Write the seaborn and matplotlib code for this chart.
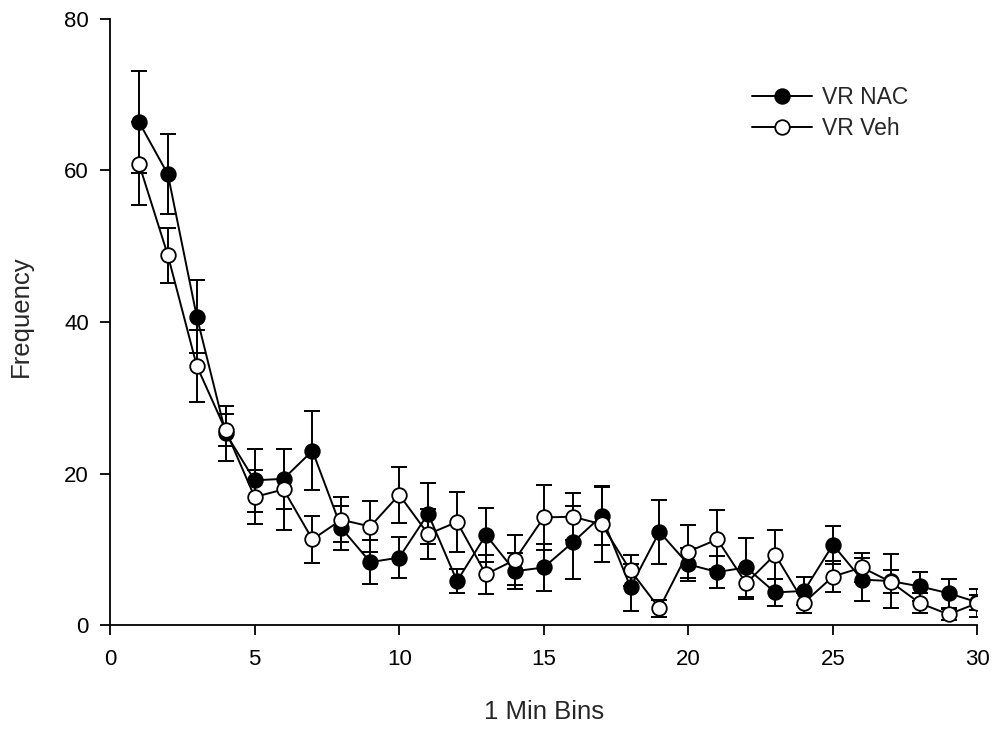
import matplotlib
matplotlib.use("Agg")
import matplotlib.pyplot as plt
import numpy as np
import pandas as pd
import seaborn as sns

# Frequency per 1-minute bin, mean ± SEM for each group
bins = list(range(1, 31))
nac_mean = [66.4, 59.5, 40.7, 25.3, 19.1, 19.3, 23.0, 12.8, 8.3, 8.9,
            14.7, 5.8, 11.9, 7.1, 7.6, 10.9, 14.4, 5.0, 12.3, 8.0,
            7.0, 7.6, 4.3, 4.5, 10.6, 6.0, 5.8, 5.1, 4.2, 3.0]
nac_sem = [6.7, 5.3, 4.8, 3.6, 4.2, 4.0, 5.2, 2.9, 2.9, 2.7,
           4.0, 1.6, 3.6, 2.4, 3.1, 4.8, 3.8, 3.1, 4.2, 2.2,
           2.1, 3.9, 1.8, 1.9, 2.5, 2.8, 3.6, 1.9, 1.9, 1.0]
veh_mean = [60.9, 48.8, 34.2, 25.7, 16.9, 17.9, 11.3, 13.9, 13.0, 17.2,
            12.0, 13.6, 6.7, 8.6, 14.2, 14.3, 13.3, 7.2, 2.2, 9.7,
            11.3, 5.5, 9.3, 2.95, 6.4, 7.6, 5.7, 2.9, 1.4, 2.9]
veh_sem = [5.5, 3.6, 4.8, 2.1, 3.6, 5.4, 3.1, 3.0, 3.4, 3.7,
           3.3, 3.9, 2.6, 3.3, 4.3, 3.1, 5.0, 2.0, 1.1, 3.5,
           3.9, 2.1, 3.2, 1.3, 2.1, 1.9, 1.5, 1.3, 0.7, 1.9]
groups = ["VR NAC", "VR Veh"]
x_ticks = [0, 5, 10, 15, 20, 25, 30]
y_ticks = [0, 20, 40, 60, 80]

sns.set_theme(style="ticks")
plt.rcParams["font.family"] = ["Liberation Sans", "DejaVu Sans"]

df = pd.DataFrame({
    "bin": bins * 2,
    "freq": nac_mean + veh_mean,
    "sem": nac_sem + veh_sem,
    "group": [groups[0]] * len(bins) + [groups[1]] * len(bins),
})

fig = plt.figure(figsize=(9.95, 7.3), dpi=100)
ax = fig.add_axes([0.1106, 0.1438, 0.8718, 0.8302])

styles = {
    groups[0]: dict(mfc="black", z=3),
    groups[1]: dict(mfc="white", z=5),
}

for g in groups:
    sub = df[df["group"] == g]
    st = styles[g]
    ax.errorbar(sub["bin"], sub["freq"], yerr=sub["sem"], fmt="none",
                ecolor="black", elinewidth=1.4, capsize=6, capthick=1.4,
                zorder=st["z"] - 1)
    sns.lineplot(data=sub, x="bin", y="freq", ax=ax, color="black",
                 linewidth=1.4, marker="o", markersize=10.5,
                 markerfacecolor=st["mfc"], markeredgecolor="black",
                 markeredgewidth=1.3, label=g, zorder=st["z"],
                 errorbar=None)

ax.set_xlim(0, 30)
ax.set_ylim(0, 80)
ax.set_xticks(x_ticks)
ax.set_yticks(y_ticks)
ax.tick_params(axis="both", direction="out", length=7.2, width=1.3,
               labelsize=16, color="black", labelcolor="black")
ax.tick_params(axis="x", pad=10)
ax.tick_params(axis="y", pad=8)
for side in ("top", "right"):
    ax.spines[side].set_visible(False)
for side in ("left", "bottom"):
    ax.spines[side].set_linewidth(1.3)
    ax.spines[side].set_color("black")

ax.set_xlabel("1 Min Bins", fontsize=18.5)
ax.set_ylabel("Frequency", fontsize=18.5)
ax.xaxis.set_label_coords(0.5, -0.124)
ax.yaxis.set_label_coords(-0.089, 0.51)

leg = ax.legend(loc="upper left", bbox_to_anchor=(0.740, 0.890), frameon=False,
                fontsize=16.5, handlelength=2.6, handletextpad=0.45,
                labelspacing=0.35, borderaxespad=0, borderpad=0)

fig.savefig("out.png", dpi=100)
